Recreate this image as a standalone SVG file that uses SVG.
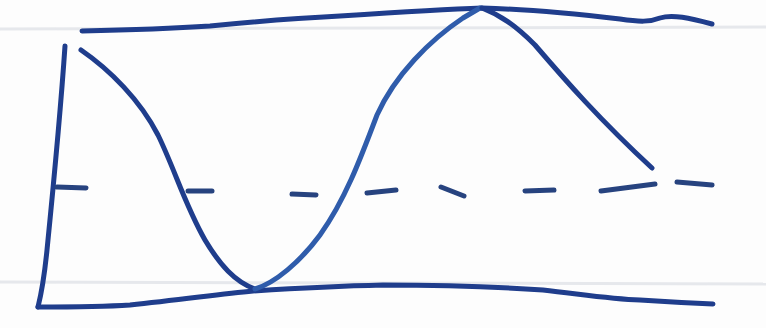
<svg xmlns="http://www.w3.org/2000/svg" width="766" height="328" viewBox="0 0 766 328">
<style>
.paper{stroke:#e6e8ec;stroke-width:3;fill:none}
.ink{stroke:#1f3d8c;stroke-width:5;fill:none;stroke-linecap:round;stroke-linejoin:round}
.light{stroke:#2f5cab}
.dash{stroke:#27437f;stroke-width:5;fill:none;stroke-linecap:round}
</style>
<rect width="766" height="328" fill="#fdfdfd"/>
<path class="paper" d="M0 29 L766 27"/>
<path class="paper" d="M0 282 L766 284"/>
<path class="ink" d="M82 31 C130 30 180 28 210 26 C250 22 300 18 340 16 C400 12 450 9 482 8 C520 9 560 12 620 19 C640 22 650 22 660 18 C672 14 690 18 712 24"/>
<path class="ink" d="M65 46 C60 120 52 200 47 250 C44 280 41 295 38 307"/>
<path class="ink" d="M38 307 C70 307 100 307 130 305 C180 300 220 294 253 291 C300 288 340 286 383 285 C450 285 500 287 543 290 C580 294 610 299 640 300 C670 302 690 303 713 304"/>
<path class="ink" d="M81 50 C110 70 140 100 158 135 C175 170 185 205 205 240 C220 265 235 282 255 289"/>
<path class="ink light" d="M255 289 C275 283 300 262 320 235 C345 200 360 160 377 115 C395 75 430 40 463 18 L480 8"/>
<path class="ink" d="M482 8 C500 15 515 25 535 45 C565 80 600 120 652 168"/>
<g class="dash">
<path d="M57 187 L86 188"/>
<path d="M188 191 L212 191"/>
<path d="M292 194 L316 195"/>
<path d="M367 193 L396 190"/>
<path d="M441 187 L464 196"/>
<path d="M525 191 L554 190"/>
<path d="M601 191 L655 184"/>
<path d="M677 182 L712 185"/>
</g>
</svg>
